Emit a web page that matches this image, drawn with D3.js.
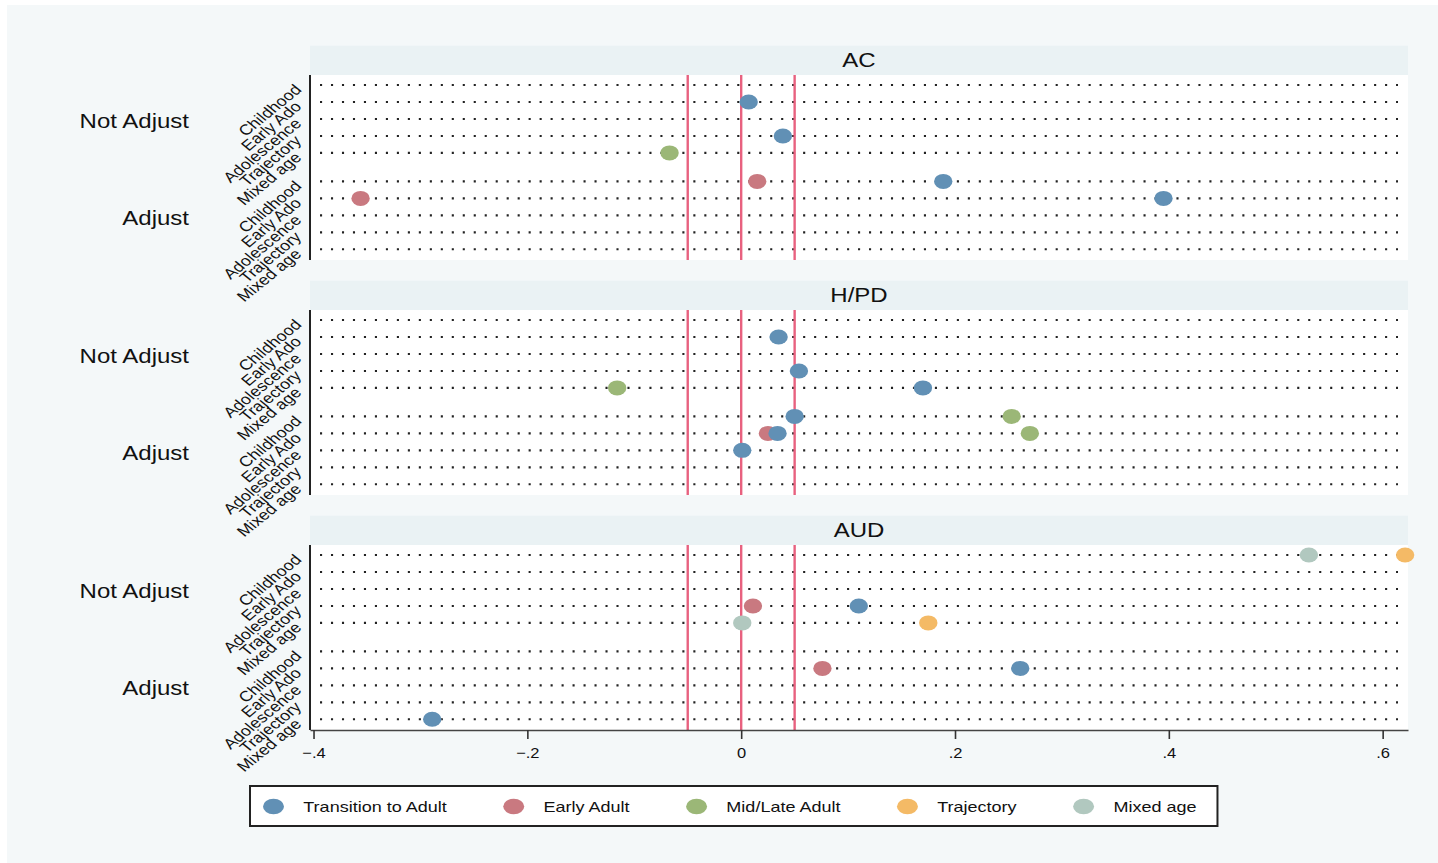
<!DOCTYPE html>
<html>
<head>
<meta charset="utf-8">
<script src="https://cdn.jsdelivr.net/npm/d3@7"></script>
<style>
  html, body { margin: 0; padding: 0; background: #ffffff; }
  svg { display: block; font-family: "Liberation Sans", Arial, Helvetica, sans-serif; }
</style>
</head>
<body>
<svg id="chart" width="1438" height="863"></svg>
<script>
// ---- data -------------------------------------------------------------
const outcomes = ["AC", "H/PD", "AUD"];
const models = ["Not Adjust", "Adjust"];
const stages = ["Childhood", "Early Ado", "Adolescence", "Trajectory", "Mixed age"];
const seriesNames = ["Transition to Adult", "Early Adult", "Mid/Late Adult", "Trajectory", "Mixed age"];
const seriesColors = ["#6190b5", "#c97980", "#9bb777", "#f4ba66", "#b1c8bf"];
const xTicks = [-0.4, -0.2, 0, 0.2, 0.4, 0.6];
const refLines = [-0.05, 0, 0.05];

// estimates per series: [outcome, model, stage, value]
const transitionToAdult = [
  ["AC", "Not Adjust", "Early Ado", 0.007],
  ["AC", "Not Adjust", "Trajectory", 0.039],
  ["AC", "Adjust", "Childhood", 0.189],
  ["AC", "Adjust", "Early Ado", 0.395],
  ["H/PD", "Not Adjust", "Early Ado", 0.035],
  ["H/PD", "Not Adjust", "Trajectory", 0.054],
  ["H/PD", "Not Adjust", "Mixed age", 0.170],
  ["H/PD", "Adjust", "Childhood", 0.050],
  ["H/PD", "Adjust", "Early Ado", 0.034],
  ["H/PD", "Adjust", "Adolescence", 0.001],
  ["AUD", "Not Adjust", "Trajectory", 0.110],
  ["AUD", "Adjust", "Early Ado", 0.261],
  ["AUD", "Adjust", "Mixed age", -0.289]
];
const earlyAdult = [
  ["AC", "Adjust", "Childhood", 0.015],
  ["AC", "Adjust", "Early Ado", -0.356],
  ["H/PD", "Adjust", "Early Ado", 0.025],
  ["AUD", "Not Adjust", "Trajectory", 0.011],
  ["AUD", "Adjust", "Early Ado", 0.076]
];
const midLateAdult = [
  ["AC", "Not Adjust", "Mixed age", -0.067],
  ["H/PD", "Not Adjust", "Mixed age", -0.116],
  ["H/PD", "Adjust", "Childhood", 0.253],
  ["H/PD", "Adjust", "Early Ado", 0.270]
];
const trajectory = [
  ["AUD", "Not Adjust", "Childhood", 0.621],
  ["AUD", "Not Adjust", "Mixed age", 0.175]
];
const mixedAge = [
  ["AUD", "Not Adjust", "Childhood", 0.531],
  ["AUD", "Not Adjust", "Mixed age", 0.001]
];
const seriesData = [transitionToAdult, earlyAdult, midLateAdult, trajectory, mixedAge];

// ---- layout -----------------------------------------------------------
const W = 1438, H = 863;
const plotLeft = 310, plotRight = 1408;
const panelTop0 = 45.7, stripH = 29.3, plotH = 185, panelStep = 235;
const groupGap = 0.68;          // extra row slots between the two model groups
const rowPadTop = 0.59, rowPadBottom = 0.63;
const textStretch = 1.2;        // horizontal stretch of the lettering

const svg = d3.select("#chart");

// widen text horizontally while keeping its height
function stretch(sel, k) {
  sel.each(function () {
    const w = this.getComputedTextLength();
    this.setAttribute("textLength", w * k);
    this.setAttribute("lengthAdjust", "spacingAndGlyphs");
  });
}

svg.append("rect")
  .attr("x", 7).attr("y", 5).attr("width", W - 7).attr("height", H - 5)
  .attr("fill", "#f4f8f9");

const x = d3.scaleLinear().domain([-0.4033, 0.6237]).range([plotLeft, plotRight]);

const rowIndex = (model, stage) =>
  models.indexOf(model) * (stages.length + groupGap) + stages.indexOf(stage);
const lastRow = rowIndex(models[models.length - 1], stages[stages.length - 1]);

outcomes.forEach((outcome, p) => {
  const stripTop = panelTop0 + p * panelStep;
  const plotTop = stripTop + stripH;
  const y = d3.scaleLinear()
    .domain([-rowPadTop, lastRow + rowPadBottom])
    .range([plotTop, plotTop + plotH]);

  const g = svg.append("g").attr("class", "panel");

  // title strip
  g.append("rect")
    .attr("x", plotLeft).attr("y", stripTop)
    .attr("width", plotRight - plotLeft).attr("height", stripH)
    .attr("fill", "#eaf2f4");
  g.append("text")
    .attr("x", (plotLeft + plotRight) / 2).attr("y", stripTop + stripH / 2)
    .attr("dy", "0.35em").attr("text-anchor", "middle")
    .attr("font-size", 20).attr("fill", "#111")
    .text(outcome)
    .call(stretch, textStretch);

  // plot region
  g.append("rect")
    .attr("x", plotLeft).attr("y", plotTop)
    .attr("width", plotRight - plotLeft).attr("height", plotH)
    .attr("fill", "#ffffff");

  const rows = [];
  models.forEach(m => stages.forEach(s => rows.push({ model: m, stage: s })));

  // dotted row guides
  g.append("g").selectAll("line").data(rows).join("line")
    .attr("x1", plotLeft + 10).attr("x2", plotRight - 10)
    .attr("y1", d => y(rowIndex(d.model, d.stage)))
    .attr("y2", d => y(rowIndex(d.model, d.stage)))
    .attr("stroke", "#222").attr("stroke-width", 2.1)
    .attr("stroke-dasharray", "2.1 8.88");

  // reference lines
  g.append("g").selectAll("line").data(refLines).join("line")
    .attr("x1", d => x(d)).attr("x2", d => x(d))
    .attr("y1", plotTop).attr("y2", plotTop + plotH)
    .attr("stroke", "#e8617f").attr("stroke-width", 2.4);

  // left axis line
  g.append("line")
    .attr("x1", plotLeft).attr("x2", plotLeft)
    .attr("y1", plotTop).attr("y2", plotTop + plotH)
    .attr("stroke", "#222").attr("stroke-width", 2);

  // row labels
  g.append("g").selectAll("text").data(rows).join("text")
    .attr("transform", d => `translate(298,${y(rowIndex(d.model, d.stage)) + 2}) scale(1.22,1) rotate(-45)`)
    .attr("dy", "0.35em").attr("text-anchor", "end")
    .attr("font-size", 14.6).attr("fill", "#111")
    .text(d => d.stage);

  // model group labels
  g.append("g").selectAll("text").data(models).join("text")
    .attr("x", 189).attr("y", m => y(rowIndex(m, stages[Math.floor(stages.length / 2)])))
    .attr("dy", "0.46em").attr("text-anchor", "end")
    .attr("font-size", 20).attr("fill", "#111")
    .text(m => m)
    .call(stretch, textStretch);

  // markers (first series on top)
  for (let s = seriesData.length - 1; s >= 0; s--) {
    g.append("g").selectAll("ellipse")
      .data(seriesData[s].filter(d => d[0] === outcome))
      .join("ellipse")
      .attr("cx", d => x(d[3]))
      .attr("cy", d => y(rowIndex(d[1], d[2])))
      .attr("rx", 9.2).attr("ry", 7.5)
      .attr("fill", seriesColors[s]);
  }

  // x axis on the bottom panel only
  if (p === outcomes.length - 1) {
    const fmt = v => (v === 0 ? "0" : d3.format(".1f")(v).replace("0.", "."));
    const ax = g.append("g")
      .attr("transform", `translate(0,${plotTop + plotH})`)
      .call(d3.axisBottom(x).tickValues(xTicks).tickFormat(fmt)
        .tickSize(9).tickSizeOuter(0).tickPadding(8));
    ax.select(".domain").attr("stroke", "#444").attr("stroke-width", 1.6);
    ax.selectAll(".tick line").attr("stroke", "#333").attr("stroke-width", 1.6);
    ax.selectAll(".tick text")
      .attr("font-size", 15).attr("fill", "#111")
      .attr("font-family", "Liberation Sans, Arial, sans-serif")
      .call(stretch, 1.1);
  }
});

// ---- legend -----------------------------------------------------------
const legendTop = 786, legendH = 40, legendMid = legendTop + legendH / 2 + 0.5;
const legend = svg.append("g").attr("class", "legend");
const legendBox = legend.append("rect")
  .attr("y", legendTop).attr("height", legendH)
  .attr("fill", "#ffffff").attr("stroke", "#222").attr("stroke-width", 2);

let cx = 273.5;
let lastEnd = cx;
seriesNames.forEach((name, i) => {
  legend.append("ellipse")
    .attr("cx", cx).attr("cy", legendMid)
    .attr("rx", 10.5).attr("ry", 7.7)
    .attr("fill", seriesColors[i]);
  const t = legend.append("text")
    .attr("x", cx + 29.8).attr("y", legendMid + 5.3)
    .attr("font-size", 15).attr("fill", "#111")
    .text(name)
    .call(stretch, textStretch);
  const w = +t.attr("textLength");
  lastEnd = cx + 29.8 + w;
  cx = lastEnd + 67;
});
legendBox.attr("x", 250).attr("width", lastEnd + 21 - 250);
</script>
</body>
</html>
